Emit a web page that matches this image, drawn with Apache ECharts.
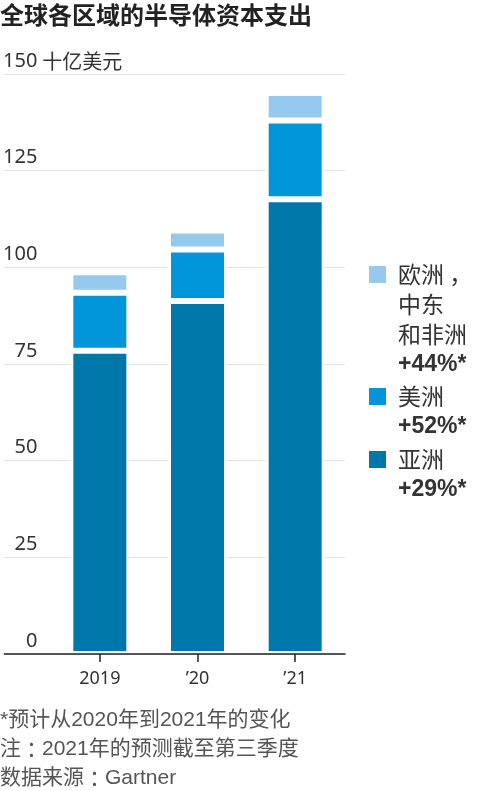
<!DOCTYPE html>
<html>
<head>
<meta charset="utf-8">
<title>全球各区域的半导体资本支出</title>
<script src="https://cdn.jsdelivr.net/npm/echarts@6/dist/echarts.min.js"></script>
<style>
  html, body { margin: 0; padding: 0; background: #fff; }
  #main { width: 500px; height: 791px; }
</style>
</head>
<body>
<div id="main"></div>
<script>
// 年份
var years = ['2019', '’20', '’21'];
// 各区域资本支出，单位：十亿美元
var asia = [78.4, 91.3, 117.6];
var americas = [15.0, 13.3, 20.4];
var emea = [5.3, 4.9, 7.1];
// 纵轴范围与刻度间隔
var yMin = 0;
var yMax = 150;
var yStep = 25;
// 图例文字（分行）和增长率
var emeaLines = ['欧洲 ，', '中东', '和非洲'];
var americasLines = ['美洲'];
var asiaLines = ['亚洲'];
var emeaGrowth = '+44%*';
var americasGrowth = '+52%*';
var asiaGrowth = '+29%*';
// 脚注
var notes = ['*预计从2020年到2021年的变化', '注{c|：}2021年的预测截至第三季度', '数据来源{c|：}Gartner'];

var CJK = '"Noto Sans CJK SC", sans-serif';
var LATIN = '"Liberation Sans", "Noto Sans CJK SC", sans-serif';
var NUM = '"Noto Sans", "Noto Sans CJK SC", sans-serif';
var colors = { asia: '#0077ab', americas: '#0096d9', emea: '#95caee' };

var LINE_H = 30;

// 图例：图标对齐第一行文字，用上内边距把文字块往下推
function makeLegend(name, lines, growth, iconTop) {
  var h = (lines.length + 1) * LINE_H;
  return {
    data: [name],
    orient: 'vertical',
    left: 369,
    top: iconTop - 4,
    padding: 0,
    icon: 'rect',
    itemWidth: 17,
    itemHeight: 17,
    selectedMode: false,
    itemStyle: { borderWidth: 0 },
    formatter: function () {
      return lines.map(function (l) { return '{a|' + l + '}'; }).join('\n') + '\n{b|' + growth + '}';
    },
    textStyle: {
      padding: [h - LINE_H, 0, 0, 7],
      rich: {
        a: { fontFamily: CJK, fontSize: 23, lineHeight: LINE_H, color: '#333' },
        b: { fontFamily: LATIN, fontSize: 23, fontWeight: 'bold', lineHeight: LINE_H, color: '#333' }
      }
    }
  };
}

var barStyle = function (c) {
  return { color: c, borderColor: '#fff', borderWidth: 3 };
};

var chart = echarts.init(document.getElementById('main'), null, { renderer: 'canvas' });

var option = {
  backgroundColor: '#ffffff',
  animation: false,
  title: {
    text: '全球各区域的半导体资本支出',
    left: 0,
    top: 3,
    padding: 0,
    textStyle: { fontFamily: CJK, fontSize: 24, fontWeight: 'bold', color: '#222' }
  },
  legend: [
    makeLegend('欧洲，中东和非洲', emeaLines, emeaGrowth, 267),
    makeLegend('美洲', americasLines, americasGrowth, 389),
    makeLegend('亚洲', asiaLines, asiaGrowth, 452)
  ],
  grid: [
    // 网格线和纵轴刻度，从最左边铺到 345px
    { left: 0, width: 345, top: 74, height: 580 },
    // 柱子所在的区域
    { left: 51, width: 293, top: 74, height: 580 }
  ],
  xAxis: [
    {
      gridIndex: 0,
      type: 'value',
      min: 0,
      max: 1,
      z: 5,
      axisLine: { show: true, lineStyle: { color: '#222', width: 1.5 } },
      axisTick: { show: false },
      axisLabel: { show: false },
      splitLine: { show: false }
    },
    {
      gridIndex: 1,
      type: 'category',
      data: years,
      z: 5,
      axisLine: { show: false },
      axisTick: { show: true, alignWithLabel: true, length: 8, lineStyle: { color: '#222', width: 1.5 } },
      axisLabel: { margin: 16, fontFamily: NUM, fontSize: 18, color: '#333' }
    }
  ],
  yAxis: [
    {
      gridIndex: 0,
      type: 'value',
      min: yMin,
      max: yMax,
      interval: yStep,
      name: '十亿美元',
      nameLocation: 'end',
      nameGap: 0,
      nameMoveOverlap: false,
      nameTextStyle: {
        fontFamily: CJK, fontSize: 20, color: '#333',
        align: 'left', verticalAlign: 'bottom', lineHeight: 20, padding: [0, 0, 3, 38]
      },
      axisLine: { show: false },
      axisTick: { show: false },
      axisLabel: {
        inside: true,
        margin: 33,
        align: 'right',
        verticalAlign: 'bottom',
        lineHeight: 20,
        padding: [0, 0, 3, 0],
        fontFamily: NUM,
        fontSize: 20,
        color: '#333'
      },
      splitLine: { show: true, lineStyle: { color: '#e2e2e2', width: 1 } }
    },
    {
      gridIndex: 1,
      type: 'value',
      min: yMin,
      max: yMax,
      interval: yStep,
      show: false,
      splitLine: { show: false }
    }
  ],
  series: [
    {
      name: '亚洲', type: 'bar', stack: 'total', xAxisIndex: 1, yAxisIndex: 1,
      barWidth: 59, data: asia, itemStyle: barStyle(colors.asia)
    },
    {
      name: '美洲', type: 'bar', stack: 'total', xAxisIndex: 1, yAxisIndex: 1,
      barWidth: 59, data: americas, itemStyle: barStyle(colors.americas)
    },
    {
      name: '欧洲，中东和非洲', type: 'bar', stack: 'total', xAxisIndex: 1, yAxisIndex: 1,
      barWidth: 59, data: emea, itemStyle: barStyle(colors.emea)
    }
  ],
  graphic: [
    {
      type: 'text',
      left: 0,
      top: 706,
      style: {
        text: notes.join('\n'),
        fontFamily: LATIN,
        fontSize: 21,
        lineHeight: 29,
        fill: '#555',
        rich: {
          c: { fontFamily: '"Noto Sans CJK JP", sans-serif', fontSize: 21, lineHeight: 29, fill: '#555' }
        }
      }
    }
  ]
};

chart.setOption(option);
</script>
</body>
</html>
